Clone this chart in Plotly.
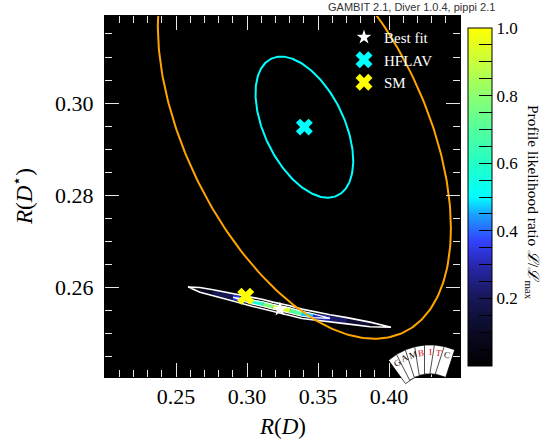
import numpy as np
import plotly.graph_objects as go
from plotly.colors import sample_colorscale

# ---------------- data ----------------
# profile-likelihood band: centre line, half-width (in R(D*)) and likelihood ratio
band_rd = [0.2585, 0.2669, 0.2761, 0.2901, 0.3021, 0.3113, 0.3183, 0.3247,
           0.3303, 0.3387, 0.3465, 0.3585, 0.3704, 0.3866, 0.4014]
band_rds = [0.2601, 0.2595, 0.2589, 0.2579, 0.2570, 0.2564, 0.2558, 0.2554,
            0.2550, 0.2543, 0.2539, 0.2533, 0.2528, 0.2520, 0.2514]
band_halfwidth = [0.0, 0.00050, 0.00064, 0.00082, 0.00096, 0.00102, 0.00104, 0.00106,
                  0.00106, 0.00102, 0.00092, 0.00080, 0.00068, 0.00050, 0.0]
band_like = [0.0, 0.02, 0.15, 0.25, 0.45, 0.70, 0.85, 1.0,
             0.85, 0.55, 0.40, 0.25, 0.20, 0.05, 0.0]
inner_idx = [3, 4, 5, 6, 7, 8, 9, 10, 11]
inner_halfwidth = [0.0, 0.00042, 0.00052, 0.00056, 0.00058, 0.00058, 0.00052, 0.00042, 0.0]

best_fit = [0.3232, 0.2553]
sm_point = [0.2991, 0.2581]
hflav_center = [0.3404, 0.2948]
hflav_sigma = [0.0344, 0.0153]
hflav_rho = -0.478
ellipse_scales = [1.0, 3.0]
ellipse_colors = ["#00ffff", "#ffa500"]

x_ticks = [0.25, 0.30, 0.35, 0.40]
y_ticks = [0.26, 0.28, 0.30]
cb_ticks = [round(0.05 * i, 2) for i in range(1, 21)]
cb_label_vals = [0.2, 0.4, 0.6, 0.8, 1.0]

colorscale = [[0.0, "#000000"], [0.1, "#0a0a26"], [0.2, "#171755"], [0.3, "#2828b0"],
              [0.37, "#3242ff"], [0.45, "#1aa4ff"], [0.5, "#00ffff"], [0.6, "#22ffc6"],
              [0.7, "#52ff9c"], [0.8, "#8cff70"], [0.9, "#c8ff3a"], [1.0, "#ffff00"]]

SERIF = "Liberation Serif"
W, H = 545, 443
L, R, T, B = 105, 85, 16, 66
PW, PH = W - L - R, H - T - B


def px(x):
    return (x - L) / PW


def py(y):
    return (H - B - y) / PH


fig = go.Figure()

# band: coloured interior
for i in range(len(band_rd) - 1):
    c = sample_colorscale(colorscale, [(band_like[i] + band_like[i + 1]) / 2])[0]
    fig.add_trace(go.Scatter(x=band_rd[i:i + 2], y=band_rds[i:i + 2], mode="lines",
                             line=dict(color=c, width=5), showlegend=False, hoverinfo="skip"))

# band: outer white contour
up = [y + h for y, h in zip(band_rds, band_halfwidth)]
lo = [y - h for y, h in zip(band_rds, band_halfwidth)]
fig.add_trace(go.Scatter(x=band_rd + band_rd[::-1], y=up + lo[::-1], mode="lines",
                         line=dict(color="white", width=1.6), showlegend=False, hoverinfo="skip"))
# band: inner white contour
ix = [band_rd[i] for i in inner_idx]
iy = [band_rds[i] for i in inner_idx]
iu = [y + h for y, h in zip(iy, inner_halfwidth)]
il = [y - h for y, h in zip(iy, inner_halfwidth)]
fig.add_trace(go.Scatter(x=ix + ix[::-1], y=iu + il[::-1], mode="lines",
                         line=dict(color="white", width=1.2), showlegend=False, hoverinfo="skip"))

# colourbar carrier
cb_text = []
for v in cb_ticks:
    cb_text.append("%.1f" % v if any(abs(v - w) < 1e-9 for w in cb_label_vals) else "")
fig.add_trace(go.Scatter(
    x=band_rd, y=band_rds, mode="markers", showlegend=False, hoverinfo="skip",
    marker=dict(color=band_like, colorscale=colorscale, cmin=0, cmax=1, opacity=0, size=1,
                showscale=True,
                colorbar=dict(x=px(468), xanchor="left", xpad=0, y=py(197), yanchor="middle", ypad=0,
                              thickness=24, thicknessmode="pixels", len=338, lenmode="pixels",
                              outlinecolor="black", outlinewidth=1, ticks="inside", ticklen=13,
                              tickcolor="black", tickmode="array", tickvals=cb_ticks,
                              ticktext=cb_text,
                              tickfont=dict(family=SERIF, size=17, color="black")))))

# HFLAV ellipses
t = np.linspace(0, 2 * np.pi, 300)
for k, col in zip(ellipse_scales, ellipse_colors):
    ex = hflav_center[0] + k * hflav_sigma[0] * np.cos(t)
    ey = hflav_center[1] + k * hflav_sigma[1] * (hflav_rho * np.cos(t) + np.sqrt(1 - hflav_rho ** 2) * np.sin(t))
    fig.add_trace(go.Scatter(x=ex, y=ey, mode="lines", line=dict(color=col, width=2),
                             showlegend=False, hoverinfo="skip"))

# points
fig.add_trace(go.Scatter(x=[best_fit[0]], y=[best_fit[1]], mode="markers", name="Best fit",
                         marker=dict(symbol="star", color="white", size=11)))
fig.add_trace(go.Scatter(x=[hflav_center[0]], y=[hflav_center[1]], mode="markers", name="HFLAV",
                         marker=dict(symbol="x", color="#00ffff", size=15)))
fig.add_trace(go.Scatter(x=[sm_point[0]], y=[sm_point[1]], mode="markers", name="SM",
                         marker=dict(symbol="x", color="#ffff00", size=15)))

axis_common = dict(showgrid=False, zeroline=False, showline=True, linecolor="black", linewidth=1,
                   mirror="ticks", ticks="inside", ticklen=14, tickcolor="#e6e6e6", tickwidth=1,
                   tickfont=dict(family=SERIF, size=22, color="black"))
fig.update_xaxes(range=[0.2, 0.45], tickmode="array", tickvals=x_ticks,
                 ticktext=["%.2f" % v for v in x_ticks], ticklabelstandoff=0,
                 minor=dict(tickmode="linear", tick0=0.2, dtick=0.01, ticks="inside",
                            ticklen=7, tickcolor="#e6e6e6"), **axis_common)
fig.update_yaxes(range=[0.2406, 0.3189], tickmode="array", tickvals=y_ticks,
                 ticktext=["%.2f" % v for v in y_ticks], ticklabelstandoff=6,
                 minor=dict(tickmode="linear", tick0=0.24, dtick=0.005, ticks="inside",
                            ticklen=7, tickcolor="#e6e6e6"), **axis_common)

annotations = [
    dict(text="<i>R</i>(<i>D</i>)", x=0.5, y=py(426), xref="paper", yref="paper",
         xanchor="center", yanchor="middle", showarrow=False,
         font=dict(family=SERIF, size=23, color="black")),
    dict(text="<i>R</i>(<i>D</i><sup>⋆</sup>)", x=px(22), y=py(197), xref="paper", yref="paper",
         xanchor="center", yanchor="middle", showarrow=False, textangle=-90,
         font=dict(family=SERIF, size=23, color="black")),
    dict(text="Profile likelihood ratio <i>ℒ</i>/<i>ℒ</i><sub>max</sub>", x=px(533), y=py(202),
         xref="paper", yref="paper", xanchor="center", yanchor="middle", showarrow=False,
         textangle=90, font=dict(family=SERIF, size=15.5, color="black")),
    dict(text="GAMBIT 2.1, Diver 1.0.4, pippi 2.1", x=px(497), y=py(7), xref="paper", yref="paper",
         xanchor="right", yanchor="middle", showarrow=False,
         font=dict(family="Liberation Sans", size=11, color="#333333")),
]

# GAMBIT card-fan logo (decoration)
shapes = []
letters = "GAMBITC"
letter_cols = ["black", "black", "black", "#e00000", "#e00000", "#e00000", "black"]
pivot = (430.0, 408.0)
for i, ch in enumerate(letters):
    a = np.radians(-36 + i * 9)
    d = np.array([np.sin(a), -np.cos(a)])
    n = np.array([np.cos(a), np.sin(a)])
    r0, r1, hw = 34.0, 63.0, 5.5
    p = np.array(pivot)
    pts = [p + r0 * d - hw * n, p + r1 * d - hw * n, p + r1 * d + hw * n, p + r0 * d + hw * n]
    path = "M " + " L ".join("%.4f,%.4f" % (px(q[0]), py(q[1])) for q in pts) + " Z"
    shapes.append(dict(type="path", path=path, xref="paper", yref="paper",
                       fillcolor="white", line=dict(color="black", width=0.7), layer="above"))
    q = p + 56 * d
    annotations.append(dict(text=ch, x=px(q[0]), y=py(q[1]), xref="paper", yref="paper",
                            xanchor="center", yanchor="middle",
                            showarrow=False, textangle=float(np.degrees(a)),
                            font=dict(family=SERIF, size=9, color=letter_cols[i])))

fig.update_layout(
    width=W, height=H, margin=dict(l=L, r=R, t=T, b=B),
    paper_bgcolor="white", plot_bgcolor="black",
    showlegend=True,
    legend=dict(x=px(344), y=py(21), xanchor="left", yanchor="top", bgcolor="rgba(0,0,0,0)",
                font=dict(family=SERIF, size=15, color="white"), itemwidth=30, tracegroupgap=0),
    annotations=annotations, shapes=shapes,
)

fig.write_html("out.html")
